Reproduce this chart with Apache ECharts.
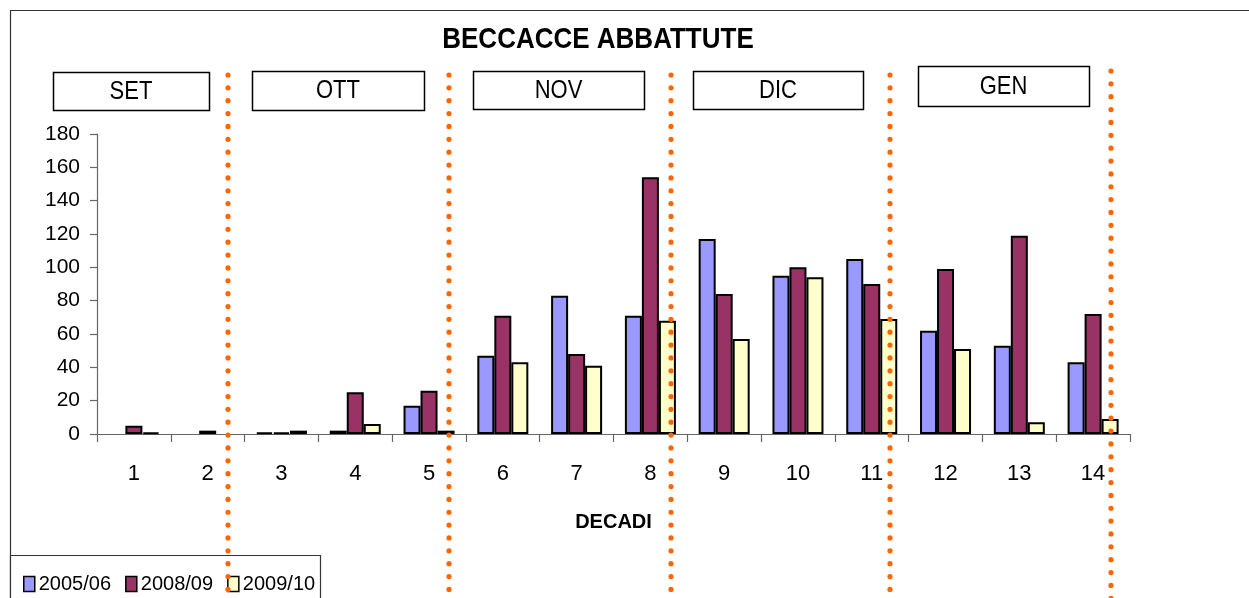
<!DOCTYPE html>
<html>
<head>
<meta charset="utf-8">
<script src="https://cdn.jsdelivr.net/npm/echarts@6/dist/echarts.min.js"></script>
<style>
  html, body { margin: 0; padding: 0; background: #fff; }
  #chart { width: 1249px; height: 598px; }
</style>
</head>
<body>
<div id="chart"></div>
<script>
// Ten-day periods (decadi) of the hunting season
const decadi = ['1', '2', '3', '4', '5', '6', '7', '8', '9', '10', '11', '12', '13', '14'];
const seasons = ['2005/06', '2008/09', '2009/10'];
const s2005 = [0, 0, 1, 2, 17, 47, 83, 71, 117, 95, 105, 62, 53, 43];
const s2008 = [5, 2, 1, 25, 26, 71, 48, 154, 84, 100, 90, 99, 119, 72];
const s2009 = [1, 0, 2, 6, 2, 43, 41, 68, 57, 94, 69, 51, 7, 9];
const months = ['SET', 'OTT', 'NOV', 'DIC', 'GEN'];
const yTicks = [0, 20, 40, 60, 80, 100, 120, 140, 160, 180];

const colors = ['#9999FF', '#993366', '#FFFFCC'];
const font = '"Liberation Sans", Arial, sans-serif';

// Month header boxes and dotted separators (layout only)
const monthBoxes = [
  { x: 53, y: 72, w: 156, h: 38 },
  { x: 252, y: 71, w: 172, h: 39 },
  { x: 473, y: 71, w: 171, h: 38 },
  { x: 693, y: 71, w: 170, h: 38 },
  { x: 918, y: 66, w: 171, h: 40 }
];
const separators = [
  { x: 228, y: 75 }, { x: 449, y: 75 }, { x: 671, y: 75 },
  { x: 890, y: 75 }, { x: 1111, y: 71 }
];

const graphics = [];
// outer chart-area frame (top and left edges visible)
graphics.push({
  type: 'rect', z: 0, silent: true,
  shape: { x: 10.5, y: 10.5, width: 1400, height: 800 },
  style: { fill: null, stroke: '#333', lineWidth: 1.2 }
});
// legend frame
graphics.push({
  type: 'rect', z: 1, silent: true,
  shape: { x: 10.5, y: 555.5, width: 310, height: 80 },
  style: { fill: '#fff', stroke: '#333', lineWidth: 1.2 }
});
// title
graphics.push({
  type: 'text', z: 50, silent: true, x: 598, y: 40, scaleY: 1.15,
  style: {
    text: 'BECCACCE ABBATTUTE', x: 0, y: 0,
    font: 'bold 26px ' + font, fill: '#000',
    align: 'center', verticalAlign: 'middle'
  }
});
months.forEach(function (m, i) {
  const b = monthBoxes[i];
  graphics.push({
    type: 'rect', z: 50, silent: true,
    shape: { x: b.x + 0.5, y: b.y + 0.5, width: b.w, height: b.h },
    style: { fill: '#fff', stroke: '#000', lineWidth: 1.5 }
  });
  graphics.push({
    type: 'text', z: 51, silent: true,
    x: b.x + b.w / 2, y: b.y + b.h / 2 + 1, scaleY: 1.15,
    style: {
      text: m, x: 0, y: 0, font: '22px ' + font, fill: '#000',
      align: 'center', verticalAlign: 'middle'
    }
  });
});
separators.forEach(function (s) {
  graphics.push({
    type: 'line', z: 100, silent: true,
    shape: { x1: s.x, y1: s.y, x2: s.x, y2: 640 },
    style: {
      stroke: '#FF6600', lineWidth: 5.2, lineCap: 'round',
      lineDash: [0.01, 12.85]
    }
  });
});

// zero counts draw no bar at all
function barSeries(name, data, color) {
  return {
    name: name,
    type: 'bar',
    data: data.map(function (v) { return v === 0 ? '-' : v; }),
    barWidth: 17,
    barGap: '0%',
    itemStyle: { color: color, borderColor: '#000', borderWidth: 2 },
    emphasis: { disabled: true },
    animation: false
  };
}

const chart = echarts.init(document.getElementById('chart'), null, { renderer: 'canvas' });
chart.setOption({
  backgroundColor: '#fff',
  animation: false,
  textStyle: { fontFamily: font },
  grid: { left: 97, right: 119, top: 134, bottom: 164, containLabel: false },
  legend: {
    data: seasons,
    icon: 'rect',
    left: 18, top: 569,
    itemWidth: 11, itemHeight: 15, itemGap: 14,
    selectedMode: false,
    itemStyle: { borderColor: '#000', borderWidth: 1.5 },
    textStyle: { fontSize: 20, color: '#000', fontFamily: font, padding: [0, 0, 0, -1] },
    z: 60
  },
  xAxis: {
    type: 'category',
    data: decadi,
    name: 'DECADI',
    nameLocation: 'middle',
    nameGap: 78,
    nameTextStyle: { fontSize: 20, fontWeight: 'bold', color: '#000', fontFamily: font },
    axisLine: { lineStyle: { color: '#666', width: 1.2 } },
    axisTick: { show: true, length: 8, alignWithLabel: false, lineStyle: { color: '#666', width: 1.2 } },
    axisLabel: { fontSize: 22, color: '#000', margin: 29, fontFamily: font }
  },
  yAxis: {
    type: 'value',
    min: yTicks[0],
    max: yTicks[yTicks.length - 1],
    interval: yTicks[1] - yTicks[0],
    splitLine: { show: false },
    axisLine: { show: true, lineStyle: { color: '#666', width: 1.2 } },
    axisTick: { show: true, length: 7, lineStyle: { color: '#666', width: 1.2 } },
    axisLabel: { fontSize: 21, color: '#000', margin: 17, fontFamily: font }
  },
  series: [
    barSeries(seasons[0], s2005, colors[0]),
    barSeries(seasons[1], s2008, colors[1]),
    barSeries(seasons[2], s2009, colors[2])
  ],
  graphic: { elements: graphics }
});
</script>
</body>
</html>
